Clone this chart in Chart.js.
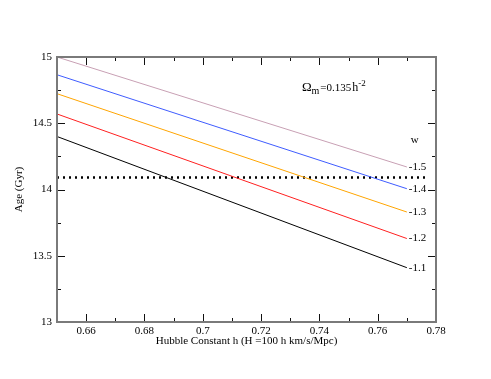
<!DOCTYPE html>
<html>
<head>
<meta charset="utf-8">
<script src="https://cdn.jsdelivr.net/npm/chart.js@4"></script>
<style>
  html, body { margin: 0; padding: 0; background: #fff; }
  canvas { display: block; }
</style>
</head>
<body>
<canvas id="chart" width="491" height="379"></canvas>
<script>
// curves: age vs h, one per w, read at h = 0.65 and h = 0.77
const hValues = [0.65, 0.77];
const wLabels = ['-1.5', '-1.4', '-1.3', '-1.2', '-1.1'];
const ageW15 = [15.0, 14.17];
const ageW14 = [14.866, 14.006];
const ageW13 = [14.723, 13.83];
const ageW12 = [14.57, 13.63];
const ageW11 = [14.40, 13.41];
const lineColors = ['#c8a0b4', '#3f5cff', '#ffa500', '#ff2020', '#000000'];

// dotted horizontal reference
const refH = [0.65, 0.7775];
const refAge = [14.09, 14.09];

const xTicks = [0.66, 0.68, 0.7, 0.72, 0.74, 0.76, 0.78];
const yTicks = [13, 13.5, 14, 14.5, 15];

const serif = '"Liberation Serif", "Times New Roman", serif';
const allAges = [ageW15, ageW14, ageW13, ageW12, ageW11];

const datasets = allAges.map((ages, i) => ({
  label: wLabels[i],
  data: hValues.map((h, j) => ({ x: h, y: ages[j] })),
  borderColor: lineColors[i],
  borderWidth: 1,
  pointRadius: 0,
  tension: 0,
}));
datasets.push({
  label: 'ref',
  data: refH.map((h, j) => ({ x: h, y: refAge[j] })),
  borderColor: '#000',
  borderWidth: 2.5,
  borderDash: [2, 4],
  pointRadius: 0,
});

// frame + inward ticks on all four sides, plus text annotations
const framePlugin = {
  id: 'frame',
  afterDatasetsDraw(chart) {
    const { ctx, chartArea: a, scales: { x, y } } = chart;
    ctx.save();
    ctx.strokeStyle = '#111';
    ctx.lineWidth = 1;
    ctx.beginPath();
    for (let v = 0.66; v < 0.7801; v += 0.01) {
      const px = Math.round(x.getPixelForValue(v)) + 0.5;
      const major = Math.round(v * 100) % 2 === 0;
      const len = major ? 8 : 4;
      ctx.moveTo(px, a.bottom); ctx.lineTo(px, a.bottom - len);
      ctx.moveTo(px, a.top); ctx.lineTo(px, a.top + len);
    }
    for (let v = 13.25; v < 15.01; v += 0.25) {
      const py = Math.round(y.getPixelForValue(v)) + 0.5;
      const major = Math.round(v * 4) % 2 === 0;
      const len = major ? 8 : 4;
      ctx.moveTo(a.left, py); ctx.lineTo(a.left + len, py);
      ctx.moveTo(a.right, py); ctx.lineTo(a.right - len, py);
    }
    ctx.stroke();

    ctx.strokeStyle = '#7a7a7a';
    ctx.lineWidth = 2;
    ctx.strokeRect(a.left, a.top, a.right - a.left, a.bottom - a.top);

    // labels at line ends
    ctx.fillStyle = '#000';
    ctx.font = '11px ' + serif;
    ctx.textBaseline = 'middle';
    ctx.textAlign = 'left';
    allAges.forEach((ages, i) => {
      const px = x.getPixelForValue(hValues[1]);
      const py = y.getPixelForValue(ages[1]);
      ctx.fillText(wLabels[i], px + 2, py);
    });
    ctx.fillText('w', x.getPixelForValue(0.7713), y.getPixelForValue(14.37));

    // Omega_m annotation
    let ox = x.getPixelForValue(0.734);
    const oy = y.getPixelForValue(14.745);
    ctx.textBaseline = 'alphabetic';
    ctx.font = '13px ' + serif;
    ctx.fillText('\u03A9', ox, oy);
    ox += ctx.measureText('\u03A9').width;
    ctx.font = '10px ' + serif;
    ctx.fillText('m', ox, oy + 3);
    ox += ctx.measureText('m').width + 1;
    ctx.font = '11px ' + serif;
    ctx.fillText('=0.135', ox, oy);
    ox += ctx.measureText('=0.135').width + 1;
    ctx.font = '12px ' + serif;
    ctx.fillText('h', ox, oy);
    ox += ctx.measureText('h').width;
    ctx.font = '9px ' + serif;
    ctx.fillText('-2', ox, oy - 5);
    ctx.restore();
  },
};

new Chart(document.getElementById('chart'), {
  type: 'line',
  data: { datasets },
  options: {
    responsive: false,
    animation: false,
    layout: { padding: { left: 10, right: 55, top: 57, bottom: 0 } },
    plugins: { legend: { display: false }, tooltip: { enabled: false } },
    scales: {
      x: {
        type: 'linear',
        min: 0.65,
        max: 0.78,
        afterBuildTicks: (s) => { s.ticks = xTicks.map((v) => ({ value: v })); },
        afterFit: (s) => { s.height = 57; },
        grid: { display: false, drawTicks: false },
        border: { display: false },
        ticks: {
          padding: 3,
          color: '#000',
          font: { family: serif, size: 11 },
          callback: (v) => String(Math.round(v * 100) / 100),
        },
        title: {
          display: true,
          text: 'Hubble Constant h (H =100 h km/s/Mpc)',
          color: '#000',
          font: { family: serif, size: 11 },
          padding: { top: 0, bottom: 31 },
        },
      },
      y: {
        type: 'linear',
        min: 13,
        max: 15,
        afterBuildTicks: (s) => { s.ticks = yTicks.map((v) => ({ value: v })); },
        afterFit: (s) => { s.width = 47; },
        grid: { display: false, drawTicks: false },
        border: { display: false },
        ticks: {
          padding: 5,
          color: '#000',
          font: { family: serif, size: 11 },
          callback: (v) => String(v),
        },
        title: {
          display: true,
          text: 'Age (Gyr)',
          color: '#000',
          font: { family: serif, size: 11 },
          padding: { top: 3, bottom: 0 },
        },
      },
    },
  },
  plugins: [framePlugin],
});
</script>
</body>
</html>
